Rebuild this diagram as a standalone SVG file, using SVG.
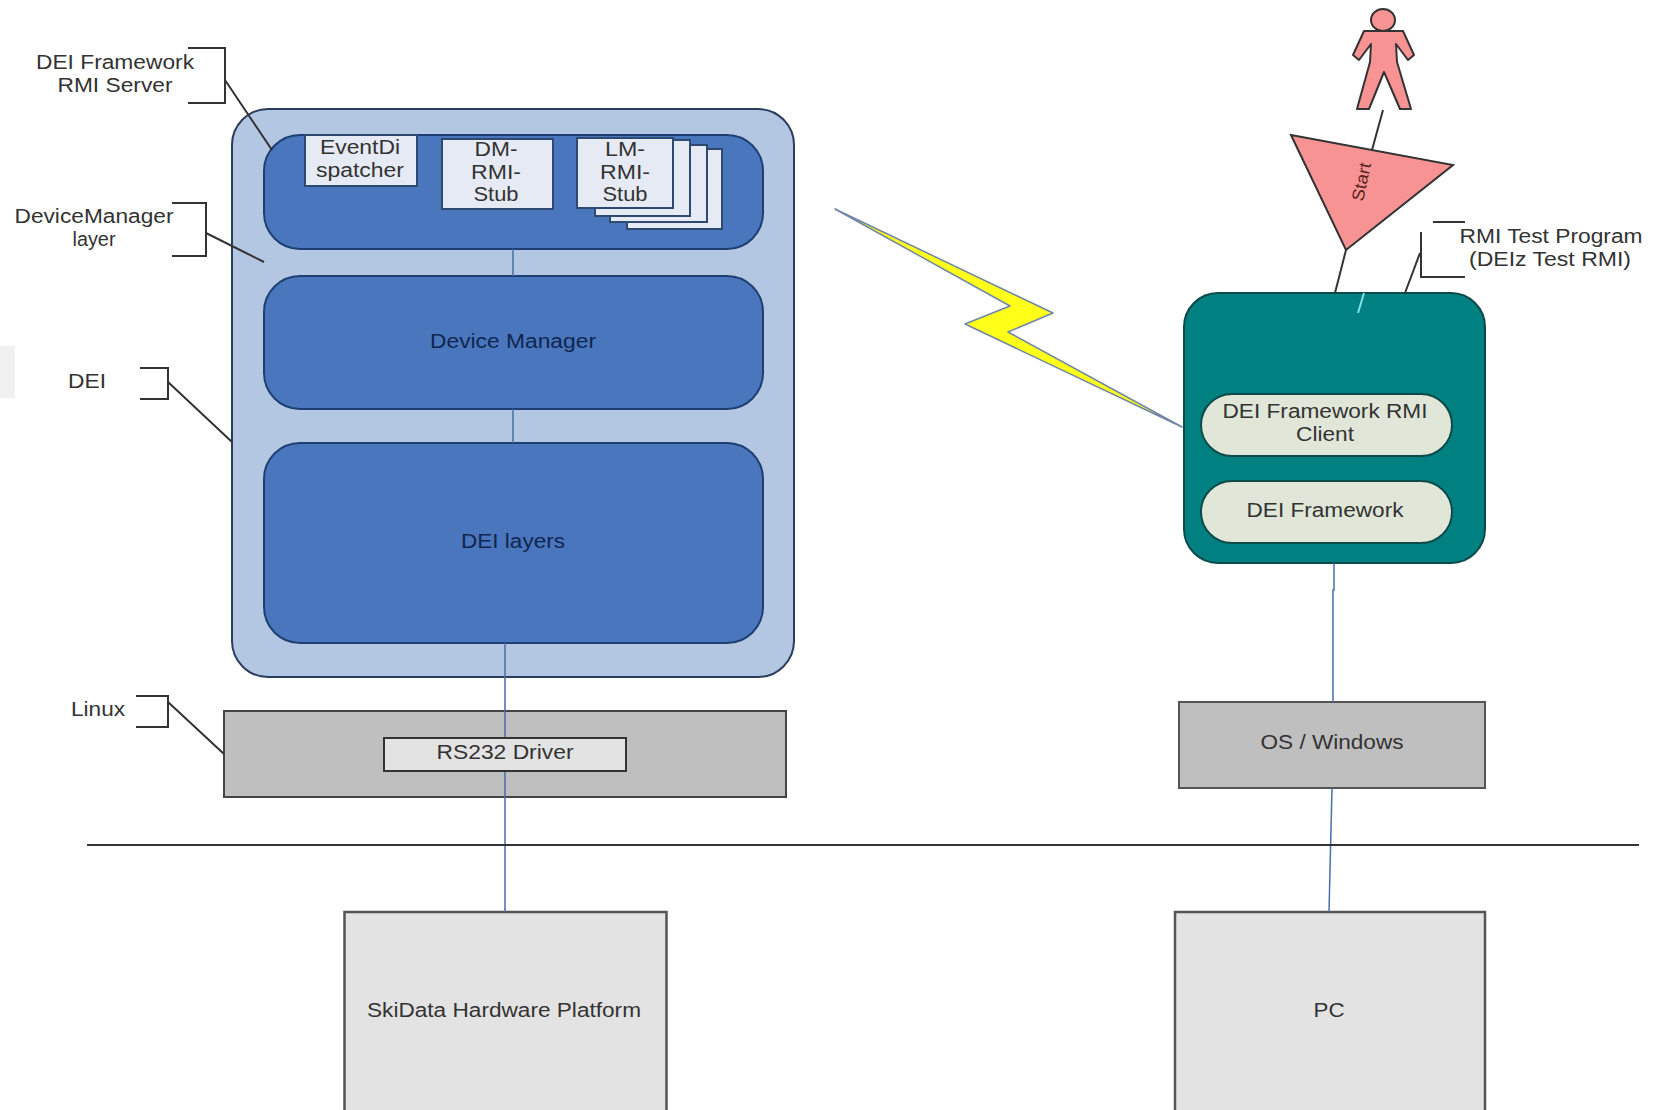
<svg xmlns="http://www.w3.org/2000/svg" width="1654" height="1110" viewBox="0 0 1654 1110">
<style>
text{font-family:"Liberation Sans",Arial,sans-serif;font-size:20px;fill:#333;text-anchor:middle}
.d{fill:#10264f}
.bl{fill:#4a76bd;stroke:#1f3f73;stroke-width:2}
.st{fill:#e6eaf4;stroke:#2f4a70;stroke-width:2}
.gr{fill:#bfbfbf;stroke:#444;stroke-width:2}
.lg{fill:#e3e3e3;stroke:#555;stroke-width:2.5}
.pill{fill:#e0e6d8;stroke:#0c4a4a;stroke-width:2}
.b{fill:none;stroke:#333;stroke-width:2}
.c{fill:none;stroke:#4a6ea8;stroke-width:1.5}
</style>
<rect width="1654" height="1110" fill="#fff"/>
<rect x="0" y="346" width="15" height="52" fill="#f0f0f0"/>
<g id="server">
<rect x="232" y="109" width="562" height="568" rx="36" fill="#b3c6e2" stroke="#2a3d5c" stroke-width="2"/>
</g>
<g id="rmi-layer"><rect class="bl" x="264" y="135" width="499" height="114" rx="36"/></g>
<g id="device-manager"><rect class="bl" x="264" y="276" width="499" height="133" rx="36"/><text class="d" x="513" y="348" textLength="166" lengthAdjust="spacingAndGlyphs">Device Manager</text></g>
<g id="dei-layers"><rect class="bl" x="264" y="443" width="499" height="200" rx="36"/><text class="d" x="513" y="548" textLength="104" lengthAdjust="spacingAndGlyphs">DEI layers</text></g>
<g id="event-dispatcher"><rect class="st" x="305" y="135" width="112" height="51"/><text x="360" y="154" textLength="80" lengthAdjust="spacingAndGlyphs">EventDi</text><text x="360" y="177" textLength="88" lengthAdjust="spacingAndGlyphs">spatcher</text></g>
<g id="dm-stub"><rect class="st" x="442" y="139" width="111" height="70"/><text x="496" y="156" textLength="43" lengthAdjust="spacingAndGlyphs">DM-</text><text x="496" y="179" textLength="50" lengthAdjust="spacingAndGlyphs">RMI-</text><text x="496" y="201" textLength="45" lengthAdjust="spacingAndGlyphs">Stub</text></g>
<g id="lm-stub">
<rect class="st" x="627" y="149" width="95" height="80"/>
<rect class="st" x="610" y="145" width="97" height="77"/>
<rect class="st" x="595" y="140" width="95" height="76"/>
<rect class="st" x="577" y="138" width="96" height="70"/>
<text x="625" y="156" textLength="40" lengthAdjust="spacingAndGlyphs">LM-</text><text x="625" y="179" textLength="50" lengthAdjust="spacingAndGlyphs">RMI-</text><text x="625" y="201" textLength="45" lengthAdjust="spacingAndGlyphs">Stub</text></g>
<g id="linux"><rect class="gr" x="224" y="711" width="562" height="86"/></g>
<g id="hardware"><rect class="lg" x="344.500" y="912" width="322" height="210"/><text x="504" y="1017" textLength="274" lengthAdjust="spacingAndGlyphs">SkiData Hardware Platform</text></g>
<g id="client"><rect x="1184" y="293" width="301" height="270" rx="34" fill="#008080" stroke="#0b4a4a" stroke-width="2"/></g>
<g id="rmi-client"><rect class="pill" x="1201" y="394" width="251" height="62" rx="31"/><text x="1325" y="418" textLength="205" lengthAdjust="spacingAndGlyphs">DEI Framework RMI</text><text x="1325" y="441" textLength="58" lengthAdjust="spacingAndGlyphs">Client</text></g>
<g id="framework"><rect class="pill" x="1201" y="481" width="251" height="62" rx="31"/><text x="1325" y="517" textLength="157" lengthAdjust="spacingAndGlyphs">DEI Framework</text></g>
<g id="windows"><rect class="gr" x="1179" y="702" width="306" height="86" style="stroke:#555"/><text x="1332" y="749" textLength="143" lengthAdjust="spacingAndGlyphs">OS / Windows</text></g>
<g id="pc"><rect class="lg" x="1175" y="912" width="310" height="210"/><text x="1329" y="1017" textLength="31" lengthAdjust="spacingAndGlyphs">PC</text></g>
<g id="start"><polygon points="1291,135 1453,165 1346,250" fill="#f79393" stroke="#333" stroke-width="2"/><text transform="translate(1367,183) rotate(-78)" style="font-size:17px;fill:#5a1f1f" textLength="39" lengthAdjust="spacingAndGlyphs">Start</text></g>
<g id="actor"><path d="M1364,31H1403L1414,55L1408,60L1396,44L1397,62L1411,109H1400L1384,72L1369,109H1357L1370,62L1371,44L1359,60L1353,55Z" fill="#f79393" stroke="#333" stroke-width="2" stroke-linejoin="round"/><ellipse cx="1383" cy="20" rx="12" ry="11" fill="#f79393" stroke="#333" stroke-width="2"/></g>
<g id="bolt"><polygon points="835,209 1053,313 1008,332 1182,427 965,324 1010,306" fill="#ffff1a" stroke="#6f86a8" stroke-width="1.5" stroke-linejoin="round"/></g>
<g id="connectors">
<path class="c" d="M513,249V276M513,409V443M505,643V738M505,771V912M1334,563V590H1333V702M1332,788L1329,912"/>
<path class="b" d="M188,48H225V103H188M172,203H206V256H172M140,368H168V399H140M136,696H168V727H136"/>
<path class="b" d="M225,80L272,150M206,233L264,262M168,382L232,442M168,702L224,754"/>
<path class="b" d="M1433,222H1465M1421,232V277H1465M1420,253L1405,293"/>
<path class="b" d="M1346,250L1335,293M1383,110L1372,150"/>
<path d="M1364,293L1358,313" fill="none" stroke="#7fe0e6" stroke-width="2"/>
<path d="M87,845H1639" fill="none" stroke="#333" stroke-width="2"/>
</g>
<g id="rs232"><rect class="lg" x="384" y="738" width="242" height="33" style="stroke:#333;stroke-width:2"/><text x="505" y="759" textLength="137" lengthAdjust="spacingAndGlyphs">RS232 Driver</text></g>
<g id="labels">
<text x="115" y="69" textLength="158" lengthAdjust="spacingAndGlyphs">DEI Framework</text><text x="115" y="92" textLength="115" lengthAdjust="spacingAndGlyphs">RMI Server</text>
<text x="94" y="223" textLength="159" lengthAdjust="spacingAndGlyphs">DeviceManager</text><text x="94" y="246" textLength="43" lengthAdjust="spacingAndGlyphs">layer</text>
<text x="87" y="388" textLength="38" lengthAdjust="spacingAndGlyphs">DEI</text>
<text x="98" y="716" textLength="54" lengthAdjust="spacingAndGlyphs">Linux</text>
<text x="1551" y="243" textLength="183" lengthAdjust="spacingAndGlyphs">RMI Test Program</text><text x="1550" y="266" textLength="162" lengthAdjust="spacingAndGlyphs">(DEIz Test RMI)</text>
</g>
</svg>
